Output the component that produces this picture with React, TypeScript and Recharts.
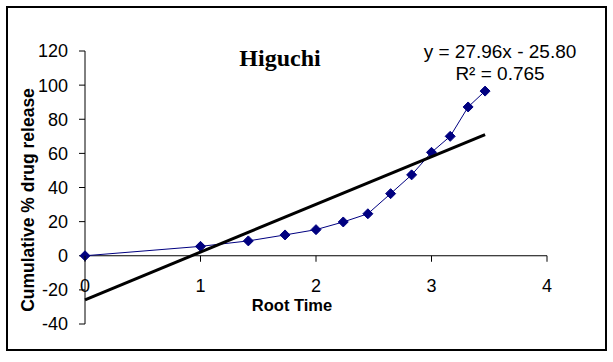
import React from 'react';
import { ComposedChart, Scatter, XAxis, YAxis, ReferenceLine } from 'recharts';

const rootTime = [0, 1, 1.414, 1.732, 2, 2.236, 2.449, 2.646, 2.828, 3, 3.162, 3.317, 3.464];
const drugRelease = [0, 5.5, 8.7, 12.2, 15.3, 19.8, 24.6, 36.4, 47.4, 60.6, 70, 87.2, 96.5];
const xTicks = [0, 1, 2, 3, 4];
const yTicks = [-40, -20, 0, 20, 40, 60, 80, 100, 120];

// fitted trendline, as shown on the chart
const slope = 27.96;
const intercept = -25.8;
const rSquared = 0.765;

const points = rootTime.map((x, i) => ({ x, y: drugRelease[i] }));
const trendX = [rootTime[0], rootTime[rootTime.length - 1]];
const trend = trendX.map(x => ({ x, y: slope * x + intercept }));

const W = 613;
const H = 362;
const TOP = 51;
const BOTTOM = 38;
const PLOT_H = H - TOP - BOTTOM;
const Y_MIN = -40;
const Y_MAX = 120;
const ZERO_Y = TOP + (PLOT_H * Y_MAX) / (Y_MAX - Y_MIN);

const font = 'Arial, "Liberation Sans", sans-serif';

const Diamond = (props: any) => {
  const { cx, cy } = props;
  if (cx == null || cy == null) return <g />;
  const r = 5;
  return (
    <path
      d={`M${cx},${cy - r}L${cx + r},${cy}L${cx},${cy + r}L${cx - r},${cy}Z`}
      fill="#000080"
      stroke="#000080"
    />
  );
};

// x axis sits on y = 0, so ticks are drawn there
const renderXTick = (props: any) => {
  const { x, payload } = props;
  return (
    <g key={`xt-${payload.value}`}>
      <line x1={x} x2={x} y1={ZERO_Y} y2={ZERO_Y + 6} stroke="#000" />
      <text x={x} y={ZERO_Y + 36} textAnchor="middle" fontSize={18} fontFamily={font} fill="#000">
        {payload.value}
      </text>
    </g>
  );
};

export default function App() {
  return (
    <div style={{ position: 'absolute', left: 0, top: 0, width: W, height: H, background: '#fff' }}>
      <ComposedChart width={W} height={H} margin={{ top: TOP, right: 66, bottom: 8, left: 0 }}>
        <XAxis
          type="number"
          dataKey="x"
          domain={[0, 4]}
          ticks={xTicks}
          height={BOTTOM - 8}
          axisLine={false}
          tickLine={false}
          tick={renderXTick}
          interval={0}
        />
        <YAxis
          type="number"
          dataKey="y"
          domain={[Y_MIN, Y_MAX]}
          ticks={yTicks}
          width={85}
          interval={0}
          axisLine={{ stroke: '#000' }}
          tickLine={{ stroke: '#000' }}
          tickSize={6}
          tickMargin={11}
          tick={{ fill: '#000', fontSize: 18, fontFamily: font }}
        />
        <ReferenceLine y={0} stroke="#000" strokeWidth={1} />
        <Scatter
          data={points}
          line={{ stroke: '#000080', strokeWidth: 1 }}
          lineType="joint"
          shape={<Diamond />}
          isAnimationActive={false}
        />
        <Scatter
          data={trend}
          line={{ stroke: '#000', strokeWidth: 3 }}
          lineType="joint"
          shape={() => <g />}
          isAnimationActive={false}
        />
      </ComposedChart>

      <svg width={W} height={H} style={{ position: 'absolute', left: 0, top: 0, pointerEvents: 'none' }}>
        <rect x={7} y={7} width={599} height={343} fill="none" stroke="#000" strokeWidth={2} />
        <text x={280} y={66} textAnchor="middle" fontSize={24} fontWeight="bold" fontFamily='"Liberation Serif", "Times New Roman", serif' fill="#000">
          Higuchi
        </text>
        <text x={500} y={58} textAnchor="middle" fontSize={19} fontFamily={font} fill="#000">
          {`y = ${slope.toFixed(2)}x - ${Math.abs(intercept).toFixed(2)}`}
        </text>
        <text x={500} y={80} textAnchor="middle" fontSize={19} fontFamily={font} fill="#000">
          {`R² = ${rSquared}`}
        </text>
        <text x={292} y={311} textAnchor="middle" fontSize={16.5} fontWeight="bold" fontFamily={font} fill="#000">
          Root Time
        </text>
        <text
          x={34}
          y={200}
          textAnchor="middle"
          fontSize={17.5}
          fontWeight="bold"
          fontFamily={font}
          fill="#000"
          transform="rotate(-90 34 200)"
        >
          Cumulative % drug release
        </text>
      </svg>
    </div>
  );
}
